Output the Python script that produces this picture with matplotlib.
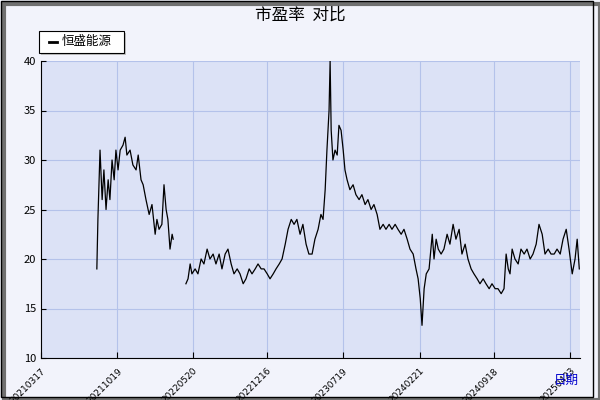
import datetime as dt
import numpy as np
import matplotlib
matplotlib.use("Agg")
import matplotlib.pyplot as plt
from matplotlib.patches import Rectangle

plt.rcParams['font.family'] = ['Noto Sans CJK SC', 'DejaVu Sans']

START = dt.date(2021, 3, 17)
# days since 2021-03-17
days1 = [158, 161, 167, 173, 178, 184, 190, 195, 201, 207, 212, 218, 224, 232, 238, 243,
         252, 260, 269, 275, 283, 289, 297, 306, 314, 323, 328, 334, 342, 348, 354, 359,
         365, 371, 374]
pe1 = [19, 24, 31, 26, 29, 25, 28, 26, 30, 28, 31, 29, 31, 31.5, 32.3, 30.5,
       31, 29.5, 29, 30.5, 28, 27.5, 26, 24.5, 25.5, 22.5, 24, 23, 23.5, 27.5, 25, 24,
       21, 22.5, 22]
days2 = [410, 416, 422, 427, 436, 444, 453, 461, 470, 478, 487, 495, 504, 512, 521, 529,
         538, 546, 555, 563, 572, 580, 589, 597, 606, 614, 623, 631, 640, 648, 657, 665,
         674, 682, 691, 699, 708, 716, 724, 733, 741, 750, 758, 767, 775, 784, 792, 798,
         804, 809, 815, 818, 821, 826, 832, 838, 843, 849, 855, 860, 866, 874, 883, 891,
         900, 908, 917, 925, 934, 942, 951, 959, 968, 976, 985, 993, 1002, 1010, 1019, 1027,
         1036, 1044, 1053, 1061, 1067, 1073, 1078, 1084, 1090, 1098, 1107, 1112, 1118, 1124,
         1132, 1140, 1149, 1157, 1166, 1174, 1183, 1191, 1200, 1208, 1217, 1225, 1234, 1242,
         1251, 1259, 1268, 1276, 1285, 1293, 1302, 1310, 1316, 1322, 1327, 1333, 1341, 1350,
         1358, 1367, 1375, 1384, 1392, 1401, 1409, 1418, 1426, 1435, 1443, 1452, 1460, 1469,
         1477, 1486, 1494, 1503, 1511, 1517, 1523]
pe2 = [17.5, 18, 19.5, 18.5, 19, 18.5, 20, 19.5, 21, 20, 20.5, 19.5, 20.5, 19, 20.5, 21,
       19.5, 18.5, 19, 18.5, 17.5, 18, 19, 18.5, 19, 19.5, 19, 19, 18.5, 18, 18.5, 19,
       19.5, 20, 21.5, 23, 24, 23.5, 24, 22.5, 23.5, 21.5, 20.5, 20.5, 22, 23, 24.5, 24,
       27, 31, 35, 40, 33, 30, 31, 30.5, 33.5, 33, 31, 29, 28, 27, 27.5, 26.5,
       26, 26.5, 25.5, 26, 25, 25.5, 24.5, 23, 23.5, 23, 23.5, 23, 23.5, 23, 22.5, 23,
       22, 21, 20.5, 19, 18, 16, 13.3, 17, 18.5, 19, 22.5, 20, 22, 21,
       20.5, 21, 22.5, 21.5, 23.5, 22, 23, 20.5, 21.5, 20, 19, 18.5, 18, 17.5,
       18, 17.5, 17, 17.5, 17, 17, 16.5, 17, 20.5, 19, 18.5, 21, 20, 19.5,
       21, 20.5, 21, 20, 20.5, 21.5, 23.5, 22.5, 20.5, 21, 20.5, 20.5, 21, 20.5,
       22, 23, 21, 18.5, 20, 22, 19]
tick_labels = ["20210317", "20211019", "20220520", "20221216", "20230719",
               "20240221", "20240918", "20250423"]

def to_date(s):
    return dt.date(int(s[:4]), int(s[4:6]), int(s[6:]))

days = days1 + [np.nan] + days2
pe = pe1 + [np.nan] + pe2
x = [START + dt.timedelta(days=int(d)) if not np.isnan(d) else START + dt.timedelta(days=390) for d in days]

fig = plt.figure(figsize=(6, 4), dpi=100, facecolor="#F2F3FB")
ax = fig.add_axes([41 / 600, 42 / 400, 539 / 600, 297 / 400])
ax.set_facecolor("#DCE2F6")
ax.plot(x, pe, color="black", lw=0.9)
ticks = [to_date(s) for s in tick_labels]
ax.set_xticks(ticks)
ax.set_xticklabels(tick_labels, rotation=45, ha="right", va="top", rotation_mode="anchor",
                   fontsize=6.5, family="DejaVu Sans")
ax.set_xlim(START, START + dt.timedelta(days=1525))
ax.set_ylim(10, 40)
ax.set_yticks([10, 15, 20, 25, 30, 35, 40])
ax.tick_params(axis="y", labelsize=8, direction="in")
ax.tick_params(axis="x", direction="in", length=4, pad=6)
ax.grid(color="#B4C2EA", lw=0.8)
for s in ["top", "right"]:
    ax.spines[s].set_visible(False)
for s in ["left", "bottom"]:
    ax.spines[s].set_color("black")

fig.text(0.5, 0.962, "市盈率  对比", ha="center", va="center", fontsize=12)
fig.text(0.965, 0.04, "日期", color="#0000CC", ha="right", fontsize=9)

# legend box with shadow
fig.patches.append(Rectangle((41 / 600, 345 / 400), 85 / 600, 22 / 400,
                             transform=fig.transFigure, facecolor="#C0C0C0", edgecolor="none"))
fig.patches.append(Rectangle((39 / 600, 347 / 400), 85 / 600, 22 / 400,
                             transform=fig.transFigure, facecolor="white", edgecolor="black", lw=0.8))
fig.add_artist(plt.Line2D([49 / 600, 57 / 600], [358 / 400, 358 / 400], color="black", lw=2))
fig.text(62 / 600, 358 / 400, "恒盛能源", va="center", fontsize=9)

# outer frame with shadow
fig.patches.append(Rectangle((0.006, 0.0), 0.994, 0.99, transform=fig.transFigure,
                             facecolor="none", edgecolor="#707070", lw=3, zorder=-1))
fig.patches.append(Rectangle((0.001, 0.008), 0.988, 0.99, transform=fig.transFigure,
                             facecolor="none", edgecolor="black", lw=1))

fig.savefig("out.png", dpi=100, facecolor=fig.get_facecolor())
